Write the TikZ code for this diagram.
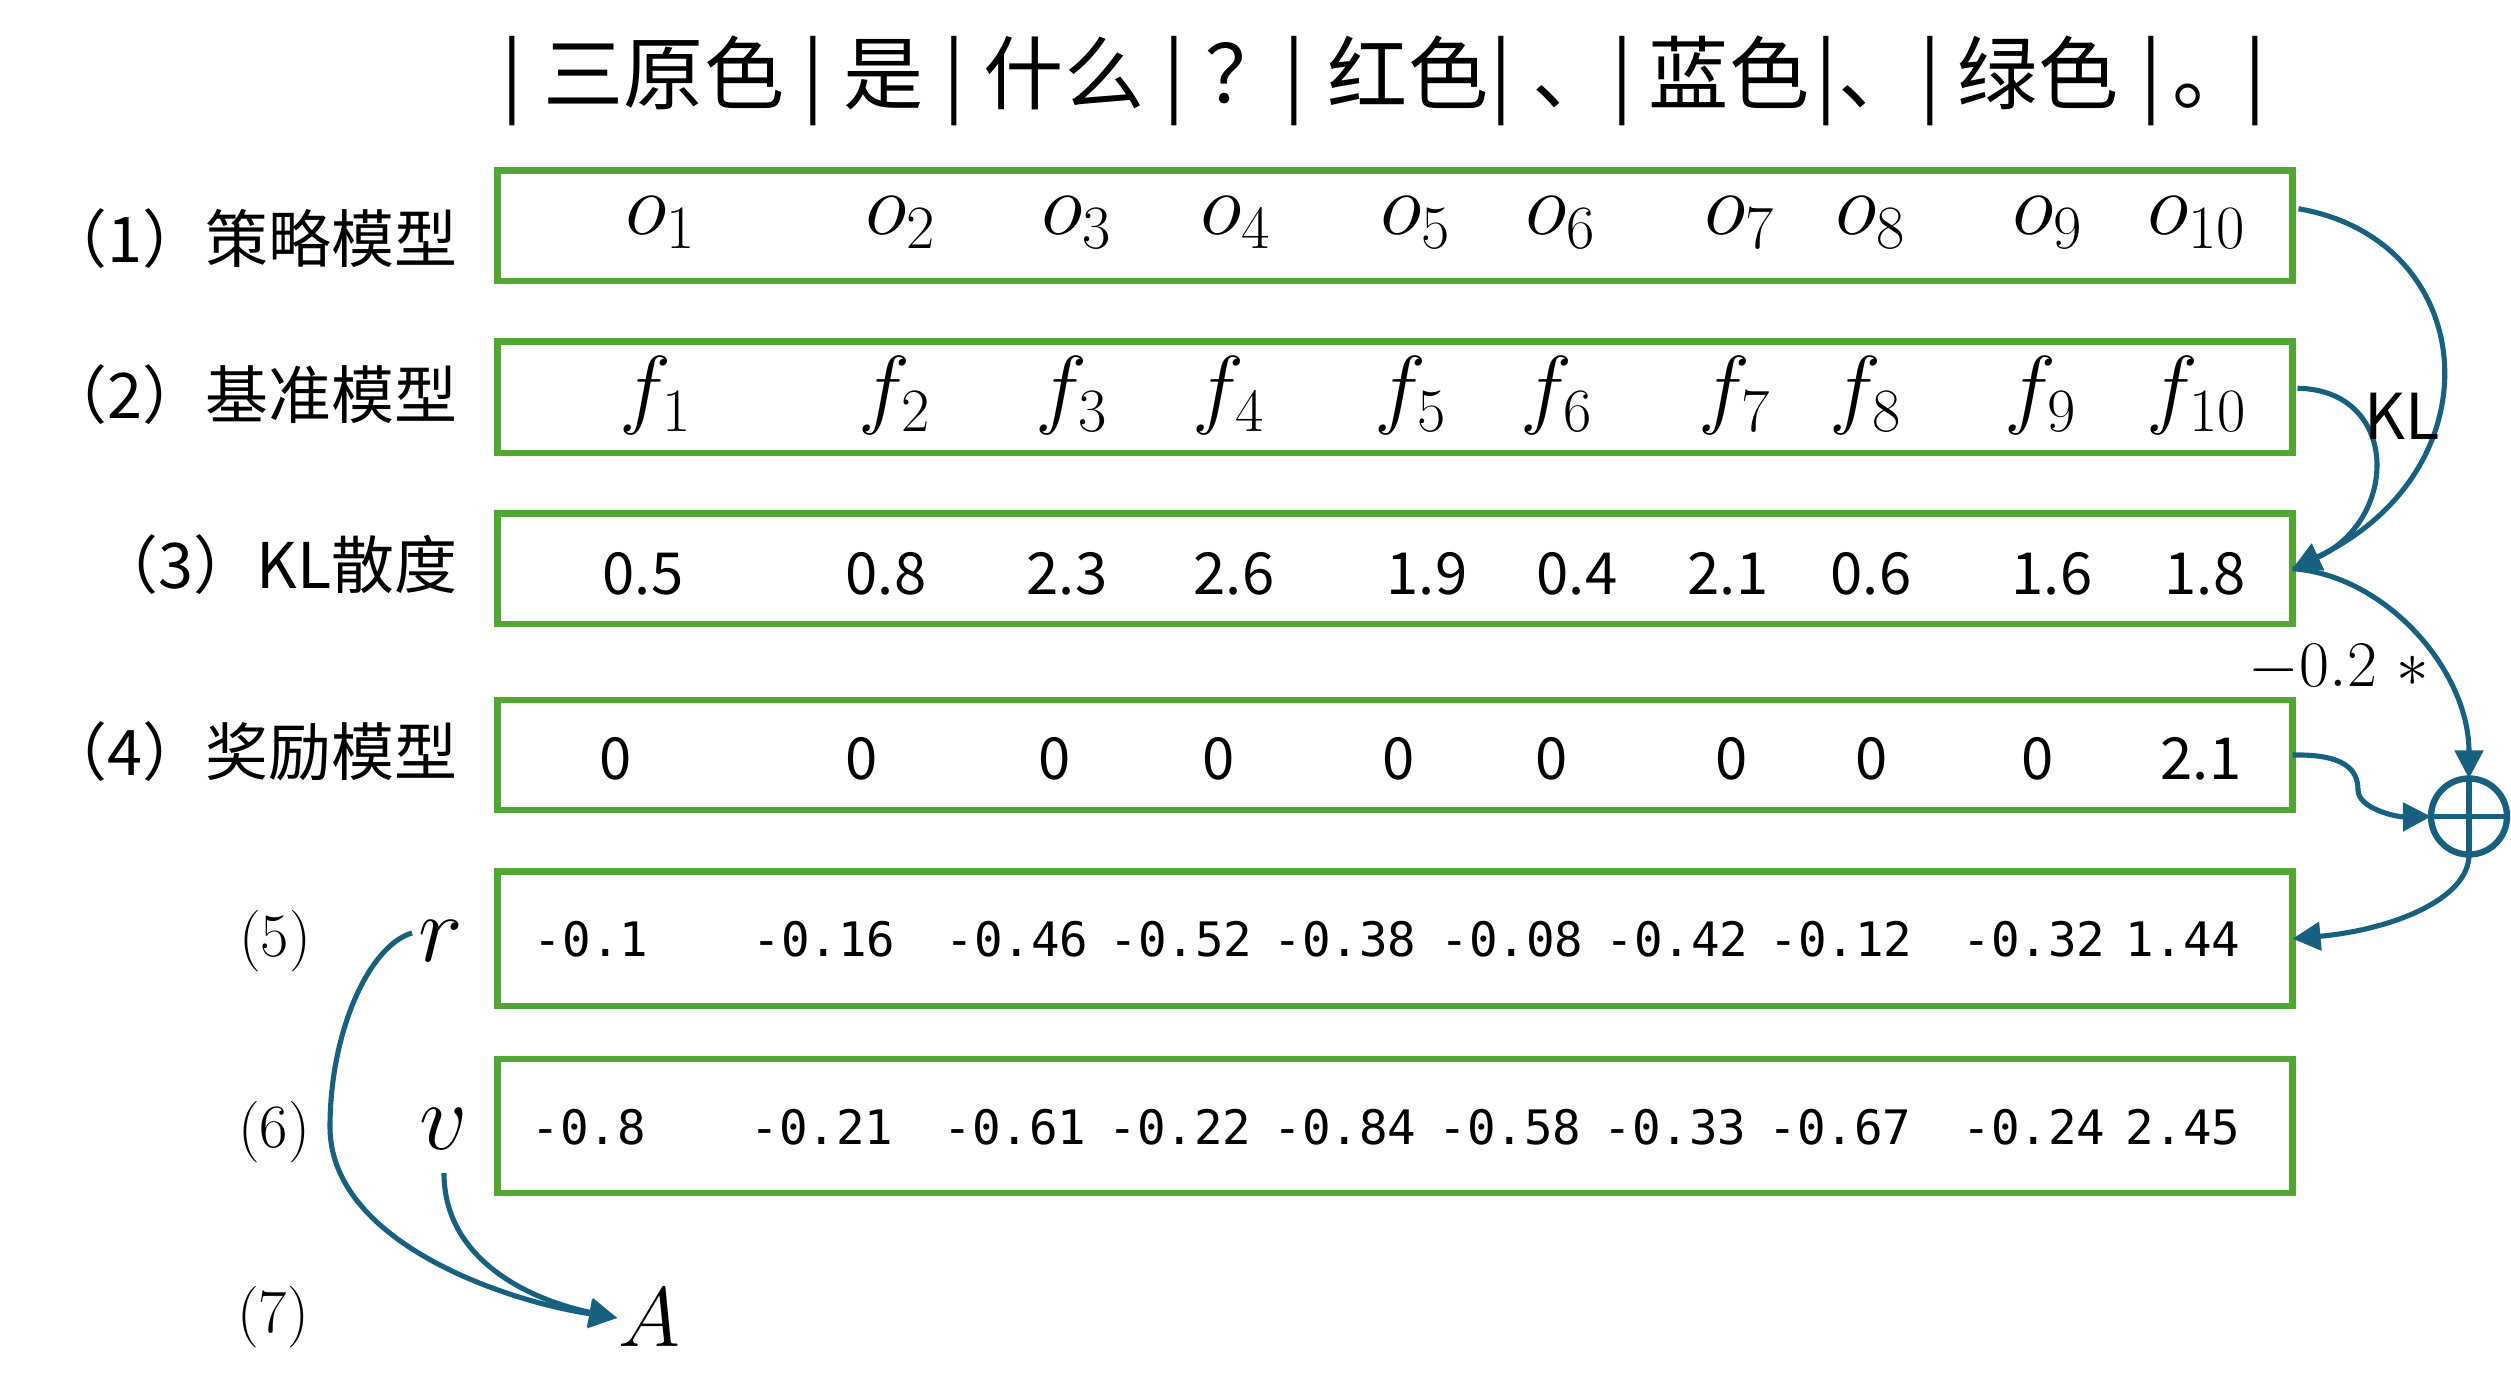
\RequirePackage{fix-cm}
\documentclass[tikz,border=0pt]{standalone}
\usepackage{fontspec}
\usetikzlibrary{calc,arrows.meta}
\newfontfamily\cjk{Noto Sans CJK SC}
\newfontfamily\monof{DejaVu Sans Mono}
\definecolor{boxgreen}{RGB}{82,167,50}
\definecolor{arrowblue}{RGB}{24,96,128}
\tikzset{
  rowbox/.style={draw=boxgreen,line width=1.85pt,minimum width=17.94cm,inner sep=0pt,outer sep=0pt},
  lbl/.style={font=\cjk\fontsize{17.9}{20}\selectfont,anchor=base east,inner sep=0pt},
  ttl/.style={font=\cjk\fontsize{22.8}{26}\selectfont,anchor=base,inner sep=0pt},
  mth/.style={font=\fontsize{25}{30}\selectfont,anchor=base,inner sep=0pt},
  num/.style={font=\cjk\fontsize{16.5}{20}\selectfont,anchor=base,inner sep=0pt},
  mono/.style={font=\monof\fontsize{13.5}{16}\selectfont,anchor=base,inner sep=0pt},
  conn/.style={draw=arrowblue,line width=1.45pt,-{Triangle[length=0.28cm,width=0.28cm]}},
}
\begin{document}
\begin{tikzpicture}[x=0.01cm,y=-0.01cm]
\useasboundingbox (0,0) rectangle (2511,1392);

% title
\foreach \x [count=\i] in {512,813,954,1174,1294,1501,1622,1826,1930,2151,2255}
  \node[ttl] (bar\i) at (\x,104) {|};
\node[ttl] (w1) at (664,104) {三原色};
\node[ttl] (w2) at (884,104) {是};
\node[ttl] (w3) at (1064,104) {什么};
\node[ttl] (w4) at (1246,104) {？};
\node[ttl] (w5) at (1408,104) {红色};
\node[ttl,anchor=base west] (w6) at (1532,104) {、};
\node[ttl] (w7) at (1729,104) {蓝色};
\node[ttl,anchor=base west] (w8) at (1838,104) {、};
\node[ttl] (w9) at (2038,104) {绿色};
\node[ttl,anchor=base west] (w10) at (2172,104) {。};

% boxes
\node[rowbox,minimum height=1.105cm] (b1) at (1395,225.75) {};
\node[rowbox,minimum height=1.115cm] (b2) at (1395,397.25) {};
\node[rowbox,minimum height=1.105cm] (b3) at (1395,568.75) {};
\node[rowbox,minimum height=1.10cm] (b4) at (1395,755) {};
\node[rowbox,minimum height=1.345cm] (b5) at (1395,938.75) {};
\node[rowbox,minimum height=1.34cm] (b6) at (1395,1126) {};

% row labels
\node[lbl] (l1) at (458,263) {（1）策略模型};
\node[lbl] (l2) at (458,419) {（2）基准模型};
\node[lbl] (l3) at (458,589) {（3）KL散度};
\node[lbl] (l4) at (458,776) {（4）奖励模型};
\node[font=\fontsize{17.5}{20}\selectfont,inner sep=0pt] (l5) at (275,941) {$(5)$};
\node[font=\fontsize{17.5}{20}\selectfont,inner sep=0pt] (l6) at (274,1132) {$(6)$};
\node[font=\fontsize{17.5}{20}\selectfont,inner sep=0pt] (l7) at (273,1317) {$(7)$};
\node[font=\fontsize{27}{30}\selectfont,inner sep=0pt] (r) at (441,941) {$r$};
\node[font=\fontsize{27}{30}\selectfont,inner sep=0pt] (v) at (444,1129) {$v$};
\node[font=\fontsize{24}{28}\selectfont,inner sep=0pt] (A) at (649,1318) {$A$};

% row contents
\foreach \x [count=\i] in {661,901,1077,1236,1416,1561,1740,1871,2048,2197}
  \node[mth] (o\i) at (\x,235) {$o_{\i}$};
\foreach \x [count=\i] in {656,895,1072,1229,1411,1557,1735,1866,2041,2197}
  \node[mth] (f\i) at (\x,418) {$f_{\i}$};
\foreach \x/\t [count=\i] in {643/0.5,886/0.8,1067/2.3,1234/2.6,1427/1.9,1577/0.4,1728/2.1,1871/0.6,2052/1.6,2205/1.8}
  \node[num] (k\i) at (\x,595) {\t};
\foreach \x/\t [count=\i] in {616/0,862/0,1055/0,1219/0,1399/0,1552/0,1732/0,1872/0,2038/0,2201/2.1}
  \node[num] (m\i) at (\x,780) {\t};
\foreach \x/\t [count=\i] in {591/-0.1,824/-0.16,1017/-0.46,1181/-0.52,1345/-0.38,1512/-0.08,1677/-0.42,1841/-0.12,2034/-0.32,2183/1.44}
  \node[mono] (s\i) at (\x,957) {\t};
\foreach \x/\t [count=\i] in {589/-0.8,822/-0.21,1015/-0.61,1180/-0.22,1345/-0.84,1510/-0.58,1675/-0.33,1840/-0.67,2034/-0.24,2183/2.45}
  \node[mono] (u\i) at (\x,1145) {\t};

% sum node
\node[draw=arrowblue,line width=1.8pt,circle,minimum size=0.76cm,inner sep=0pt,outer sep=0pt] (plus) at (2469,816.5) {};
\draw[arrowblue,line width=1.5pt] (plus.north) -- (plus.south) (plus.west) -- (plus.east);

% connectors
\draw[conn] ($(b1.east)+(6,-17)$) .. controls (2480,240) and (2500,470) .. (b3.east);
\draw[conn] ($(b2.east)+(5,-9)$) .. controls (2400,390) and (2400,520) .. (b3.east);
\node[font=\cjk\fontsize{18}{20}\selectfont,anchor=base,inner sep=0pt] (kl) at (2402,440) {KL};
\draw[conn] (b3.east) .. controls (2385,575) and (2469,670) .. (plus.north);
\node[font=\fontsize{18.5}{22}\selectfont,anchor=base,inner sep=0pt] (coef) at (2339,687) {$-0.2\ \ast$};
\draw[conn] (b4.east) .. controls (2345,754) and (2358,770) .. (2358,790) .. controls (2358,808) and (2395,817) .. (plus.west);
\draw[conn] (plus.south) .. controls (2469,900) and (2390,930) .. (b5.east);
\draw[conn] ($(r.west)+(-6,-8)$) .. controls (370,945) and (330,1030) .. (330,1127) .. controls (330,1240) and (500,1300) .. (A.west);
\draw[conn] ($(v.south)+(0,23)$) .. controls (444,1260) and (530,1300) .. (A.west);
\end{tikzpicture}
\end{document}
